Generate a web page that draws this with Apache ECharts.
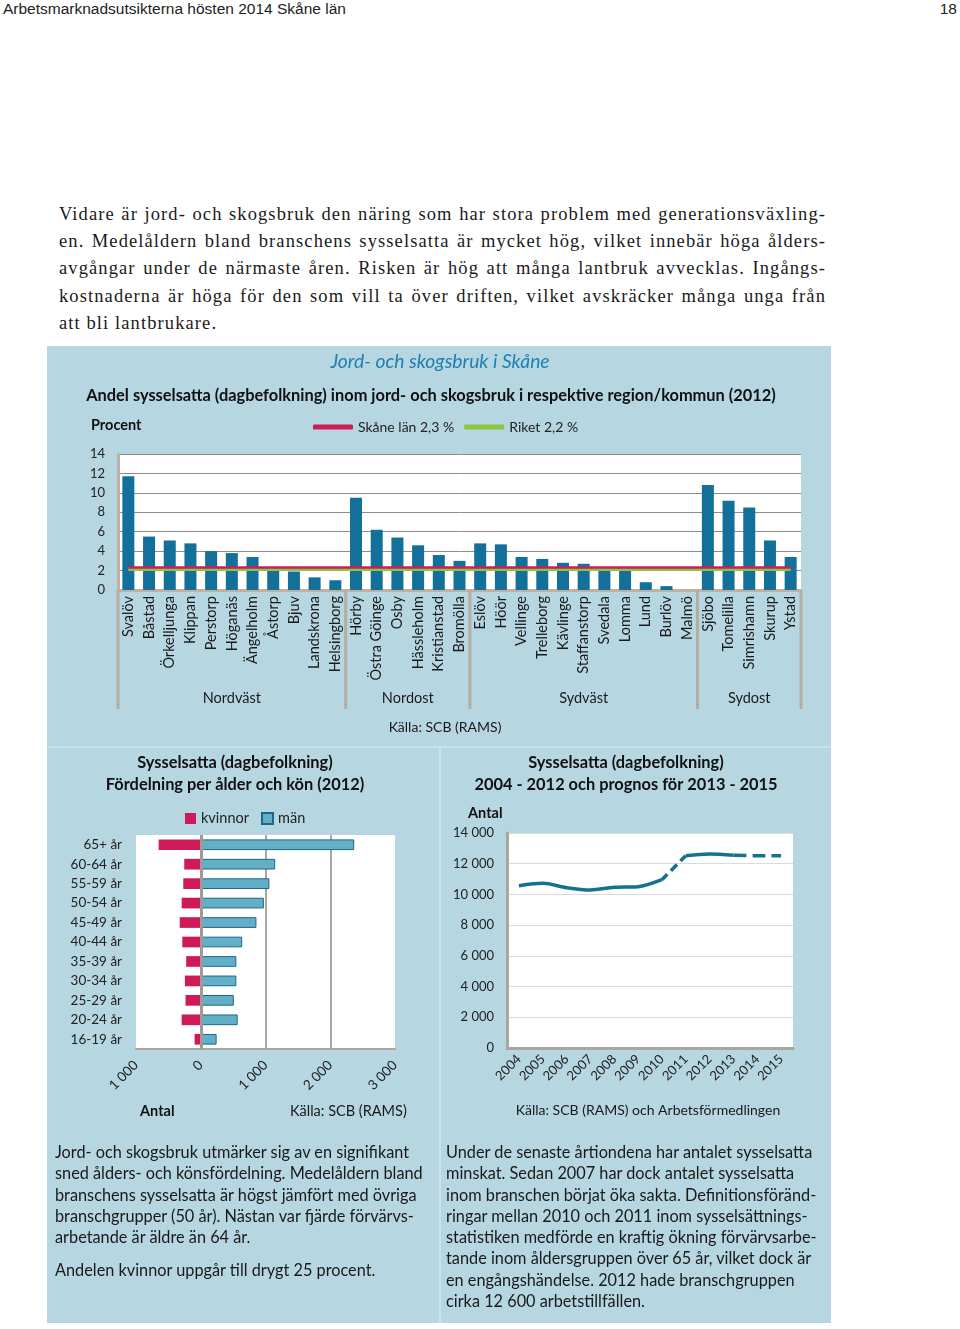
<!DOCTYPE html>
<html><head><meta charset="utf-8">
<script src="https://cdn.jsdelivr.net/npm/echarts@6/dist/echarts.min.js"></script>
<style>
body{margin:0;width:960px;height:1329px;position:relative;background:#fff;overflow:hidden;}
.hdr{position:absolute;top:0;line-height:18px;font-family:'Liberation Sans',Arial,sans-serif;font-size:15.5px;color:#222;}
.para{position:absolute;left:59px;top:201px;width:767px;font-family:'Liberation Serif','Times New Roman',serif;font-size:18.5px;letter-spacing:1.1px;line-height:27.2px;color:#1a1a1a;}
.para div{text-align:justify;text-align-last:justify;white-space:nowrap;}
.para div.last{text-align-last:left;}
#panel{position:absolute;left:47px;top:346px;width:784px;height:977px;background:#b6d6e1;}
#chart{position:absolute;left:0;top:0;width:784px;height:977px;}
.col{position:absolute;top:1141px;font-family:Lato,sans-serif;font-size:16.3px;line-height:21.3px;color:#1a1a1a;white-space:pre;}
</style></head>
<body>
<div class="hdr" style="left:3px;">Arbetsmarknadsutsikterna hösten 2014 Skåne län</div>
<div class="hdr" style="right:3px;">18</div>
<div class="para">
<div>Vidare är jord- och skogsbruk den näring som har stora problem med generationsväxling-</div>
<div>en. Medelåldern bland branschens sysselsatta är mycket hög, vilket innebär höga ålders-</div>
<div>avgångar under de närmaste åren. Risken är hög att många lantbruk avvecklas. Ingångs-</div>
<div>kostnaderna är höga för den som vill ta över driften, vilket avskräcker många unga från</div>
<div class="last">att bli lantbrukare.</div>
</div>
<div id="panel"><div id="chart"></div></div>
<div class="col" style="left:55px;">Jord- och skogsbruk utmärker sig av en signifikant
sned ålders- och könsfördelning. Medelåldern bland
branschens sysselsatta är högst jämfört med övriga
branschgrupper (50 år). Nästan var fjärde förvärvs-
arbetande är äldre än 64 år.
<span style="display:block;height:12px;"></span>Andelen kvinnor uppgår till drygt 25 procent.</div>
<div class="col" style="left:446px;">Under de senaste årtiondena har antalet sysselsatta
minskat. Sedan 2007 har dock antalet sysselsatta
inom branschen börjat öka sakta. Definitionsföränd-
ringar mellan 2010 och 2011 inom sysselsättnings-
statistiken medförde en kraftig ökning förvärvsarbe-
tande inom åldersgruppen över 65 år, vilket dock är
en engångshändelse. 2012 hade branschgruppen
cirka 12 600 arbetstillfällen.</div>
<script>
// ---- Data ----
const municipalities = ['Svalöv','Båstad','Örkelljunga','Klippan','Perstorp','Höganäs','Ängelholm','Åstorp','Bjuv','Landskrona','Helsingborg',
  'Hörby','Östra Göinge','Osby','Hässleholm','Kristianstad','Bromölla',
  'Eslöv','Höör','Vellinge','Trelleborg','Kävlinge','Staffanstorp','Svedala','Lomma','Lund','Burlöv','Malmö',
  'Sjöbo','Tomelilla','Simrishamn','Skurup','Ystad'];
const sharePct = [11.7,5.5,5.1,4.8,4.0,3.8,3.4,2.0,1.9,1.3,1.0,
  9.5,6.2,5.4,4.6,3.6,3.0,
  4.8,4.7,3.4,3.2,2.8,2.7,2.0,2.0,0.8,0.4,0,
  10.8,9.2,8.5,5.1,3.4];
const groupNames = ['Nordväst','Nordost','Sydväst','Sydost'];
const groupSizes = [11,6,11,5];
const skaneShare = 2.3;
const riketShare = 2.2;

const ageGroups = ['16-19 år','20-24 år','25-29 år','30-34 år','35-39 år','40-44 år','45-49 år','50-54 år','55-59 år','60-64 år','65+ år'];
const women = [95,295,235,245,225,285,325,295,270,255,650];
const men = [245,570,510,550,550,640,860,975,1060,1150,2370];

const years = ['2004','2005','2006','2007','2008','2009','2010','2011','2012','2013','2014','2015'];
const employed = [10570,10720,10440,10290,10460,10500,10960,12520,12630,12550,12520,12520];

// ---- Helpers ----
const FONT = 'Lato, "Open Sans", sans-serif';
const fmt = v => String(Math.abs(v)).replace(/\B(?=(\d{3})+(?!\d))/g, ' ');
const segment = (a, b) => employed.map((v, i) => (i >= a && i <= b) ? v : null);
const chart = echarts.init(document.getElementById('chart'));
const lineCol = '#14718f';

chart.setOption({
  animation: false,
  textStyle: {fontFamily: FONT},
  grid: [
    {left: 71, top: 108, width: 683, height: 136, show: true, backgroundColor: '#fff', borderWidth: 0},
    {left: 89, top: 489, width: 259, height: 214, show: true, backgroundColor: '#fff', borderWidth: 0},
    {left: 460, top: 487, width: 286, height: 215, show: true, backgroundColor: '#fff', borderWidth: 0}
  ],
  legend: [
    {data: ['Skåne län 2,3 %','Riket 2,2 %'], left: 266, top: 74, padding: 0, icon: 'roundRect',
     itemWidth: 40, itemHeight: 5, itemGap: 10, textStyle: {fontFamily: FONT, fontSize: 14, color: '#222'}},
    {data: ['kvinnor','män'], left: 138, top: 465, padding: 0, icon: 'rect',
     itemWidth: 11, itemHeight: 11, itemGap: 12, textStyle: {fontFamily: FONT, fontSize: 14.5, color: '#222'}}
  ],
  xAxis: [
    {gridIndex: 0, type: 'category', data: municipalities,
     axisLine: {lineStyle: {color: '#bfb2a4', width: 3}}, axisTick: {show: false},
     axisLabel: {rotate: 90, interval: 0, margin: 6, fontFamily: FONT, fontSize: 14.5, color: '#1a1a1a'}},
    {gridIndex: 1, type: 'value', min: -1000, max: 3000, interval: 1000,
     axisLine: {show: true, lineStyle: {color: '#aca69f', width: 2}}, axisTick: {show: false},
     splitLine: {show: true, lineStyle: {color: ['rgba(0,0,0,0)','rgba(0,0,0,0)','#8a8a8a','#8a8a8a','rgba(0,0,0,0)'], width: 1.5}},
     axisLabel: {rotate: 45, margin: 14, formatter: fmt, fontFamily: FONT, fontSize: 13.5, color: '#222'}},
    {gridIndex: 2, type: 'category', data: years,
     axisLine: {lineStyle: {color: '#aaa59f', width: 3}}, axisTick: {show: false},
     axisLabel: {rotate: 45, interval: 0, margin: 9, fontFamily: FONT, fontSize: 13, color: '#222'}}
  ],
  yAxis: [
    {gridIndex: 0, type: 'value', min: 0, max: 14, interval: 2,
     axisLine: {show: true, lineStyle: {color: '#bfb2a4', width: 3}}, axisTick: {show: false},
     splitLine: {lineStyle: {color: '#8c8c8c', width: 1}},
     axisLabel: {margin: 13, fontFamily: FONT, fontSize: 13, color: '#222'}},
    {gridIndex: 1, type: 'category', data: ageGroups,
     axisLine: {show: false}, axisTick: {show: false},
     axisLabel: {margin: 14, fontFamily: FONT, fontSize: 13.5, color: '#222'}},
    {gridIndex: 2, type: 'value', min: 0, max: 14000, interval: 2000,
     axisLine: {show: true, lineStyle: {color: '#aaa59f', width: 3}}, axisTick: {show: false},
     splitLine: {lineStyle: {color: '#dadada', width: 1}},
     axisLabel: {margin: 13, formatter: fmt, fontFamily: FONT, fontSize: 13, color: '#222'}}
  ],
  series: [
    {type: 'bar', name: 'Andel', xAxisIndex: 0, yAxisIndex: 0, data: sharePct, barWidth: '58%',
     itemStyle: {color: '#13709a'}, z: 2},
    {type: 'line', name: 'Riket 2,2 %', xAxisIndex: 0, yAxisIndex: 0, data: [], color: '#8dc63f',
     markLine: {silent: true, symbol: 'none', label: {show: false}, lineStyle: {color: '#8dc63f', width: 4, type: 'solid'},
       data: [[{coord: [municipalities[0], riketShare]}, {coord: [municipalities[municipalities.length - 1], riketShare]}]]}},
    {type: 'line', name: 'Skåne län 2,3 %', xAxisIndex: 0, yAxisIndex: 0, data: [], color: '#cc1d5a',
     markLine: {silent: true, symbol: 'none', label: {show: false}, lineStyle: {color: '#cc1d5a', width: 2.5, type: 'solid'},
       data: [[{coord: [municipalities[0], skaneShare]}, {coord: [municipalities[municipalities.length - 1], skaneShare]}]]}},
    {type: 'bar', name: 'kvinnor', xAxisIndex: 1, yAxisIndex: 1, data: women.map(v => -v), barWidth: '55%', barGap: '-100%',
     itemStyle: {color: '#cf1a5a'}},
    {type: 'bar', name: 'män', xAxisIndex: 1, yAxisIndex: 1, data: men, barWidth: '55%', barGap: '-100%',
     itemStyle: {color: '#63afc7', borderColor: '#1d6985', borderWidth: 1},
     markLine: {silent: true, symbol: 'none', label: {show: false}, lineStyle: {color: '#a09a94', width: 3, type: 'solid'},
       data: [{xAxis: 0}]}},
    {type: 'line', name: 'faktisk', xAxisIndex: 2, yAxisIndex: 2, data: segment(0, 6), smooth: 0.3, showSymbol: false,
     lineStyle: {color: lineCol, width: 3.5}},
    {type: 'line', name: 'brott', xAxisIndex: 2, yAxisIndex: 2, data: segment(6, 7), smooth: 0.3, showSymbol: false,
     lineStyle: {color: lineCol, width: 3.5, type: [8, 5]}},
    {type: 'line', name: 'faktisk2', xAxisIndex: 2, yAxisIndex: 2, data: segment(7, 9), smooth: 0.3, showSymbol: false,
     lineStyle: {color: lineCol, width: 3.5}},
    {type: 'line', name: 'prognos', xAxisIndex: 2, yAxisIndex: 2, data: segment(9, 11), smooth: 0.3, showSymbol: false,
     lineStyle: {color: lineCol, width: 3.5, type: [13, 6]}}
  ]
});

// ---- Texts and group axis built from the axis scale ----
const T = (x, y, text, font, fill, align) => ({type: 'text', x: x, y: y, silent: true,
  style: {text: text, font: font, fill: fill || '#1a1a1a', align: align || 'left', verticalAlign: 'middle'}});
const g = [];
g.push({type: 'line', silent: true, shape: {x1: 393, y1: 402, x2: 393, y2: 977}, style: {stroke: 'rgba(255,255,255,0.3)', lineWidth: 2}});
g.push({type: 'line', silent: true, shape: {x1: 0, y1: 401, x2: 784, y2: 401}, style: {stroke: 'rgba(255,255,255,0.25)', lineWidth: 2}});
g.push(T(393, 16, 'Jord- och skogsbruk i Skåne', 'italic 19.3px ' + FONT, '#1f7fae', 'center'));
g.push(T(384, 50, 'Andel sysselsatta (dagbefolkning) inom jord- och skogsbruk i respektive region/kommun (2012)', 'bold 16.4px ' + FONT, '#111', 'center'));
g.push(T(44, 79, 'Procent', 'bold 14.5px ' + FONT, '#111'));
g.push(T(398, 381, 'Källa: SCB (RAMS)', '14px ' + FONT, '#1a1a1a', 'center'));
g.push(T(188, 417, 'Sysselsatta (dagbefolkning)', 'bold 16.4px ' + FONT, '#111', 'center'));
g.push(T(188, 439, 'Fördelning per ålder och kön (2012)', 'bold 16.4px ' + FONT, '#111', 'center'));
g.push(T(579, 417, 'Sysselsatta (dagbefolkning)', 'bold 16.4px ' + FONT, '#111', 'center'));
g.push(T(579, 439, '2004 - 2012 och prognos för 2013 - 2015', 'bold 16.4px ' + FONT, '#111', 'center'));
g.push(T(93, 765, 'Antal', 'bold 14.5px ' + FONT, '#111'));
g.push(T(243, 765, 'Källa: SCB (RAMS)', '14.5px ' + FONT, '#1a1a1a'));
g.push(T(421, 467, 'Antal', 'bold 14.5px ' + FONT, '#111'));
g.push(T(601, 764, 'Källa: SCB (RAMS) och Arbetsförmedlingen', '14px ' + FONT, '#1a1a1a', 'center'));

const cx = i => chart.convertToPixel({xAxisIndex: 0}, municipalities[i]);
const bw = cx(1) - cx(0);
const axisY = chart.convertToPixel({yAxisIndex: 0}, 0);
let start = 0;
const bounds = [cx(0) - bw / 2];
groupNames.forEach((name, k) => {
  const end = start + groupSizes[k] - 1;
  const left = cx(start) - bw / 2, right = cx(end) + bw / 2;
  bounds.push(right);
  g.push(T((left + right) / 2, 352, name, '14.5px ' + FONT, '#1a1a1a', 'center'));
  start = end + 1;
});
bounds.forEach(b => g.push({type: 'line', silent: true, z: 10,
  shape: {x1: b, y1: axisY, x2: b, y2: 363}, style: {stroke: '#b5aca2', lineWidth: 3}}));
chart.setOption({graphic: g});
</script>
</body></html>
